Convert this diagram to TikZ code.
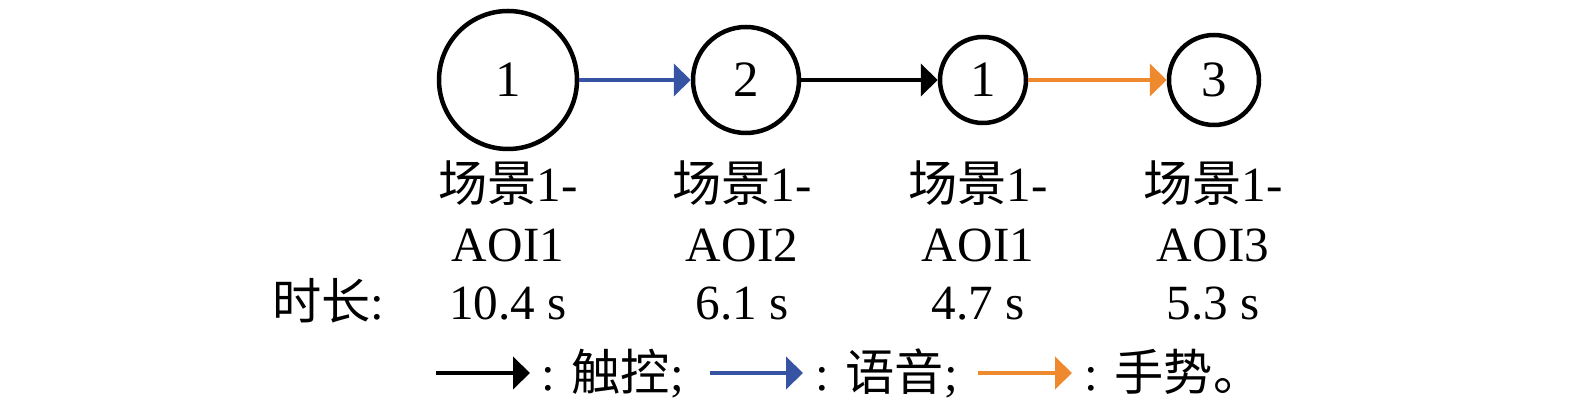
\documentclass[tikz,border=0pt]{standalone}
\usepackage{fontspec}
\setmainfont{Liberation Serif}
\newfontfamily\cjk{Noto Sans CJK SC}
\usetikzlibrary{arrows.meta}
\definecolor{voiceblue}{RGB}{54,83,164}
\definecolor{gestorange}{RGB}{238,137,45}
\begin{document}
\begin{tikzpicture}[font=\fontsize{14}{17}\selectfont, line join=round, >={Triangle[length=0.17cm,width=0.32cm]},
		aoi/.style={circle, draw, line width=0.045cm, inner sep=0pt, font=\fontsize{14.5}{17}\selectfont},
		txt/.style={inner sep=0pt, anchor=base},
		flow/.style={->, line width=0.042cm}]
			\useasboundingbox (0,0) rectangle (15.75,4.07);
			\node[aoi, minimum size=1.38cm] (a1) at (5.08,3.27) {1};
			\node[aoi, minimum size=1.06cm] (a2) at (7.46,3.27) {2};
			\node[aoi, minimum size=0.86cm] (a3) at (9.83,3.27) {1};
			\node[aoi, minimum size=0.90cm] (a4) at (12.14,3.27) {3};
			\draw[flow, voiceblue] (a1) -- (a2);
			\draw[flow] (a2) -- (a3);
			\draw[flow, gestorange] (a3) -- (a4);
			\foreach \x/\n/\k/\t in {5.08/1/1/10.4, 7.42/2/2/6.1, 9.78/3/1/4.7, 12.13/4/3/5.3}
			{
				\node[txt] (s\n) at (\x,2.05) {{\cjk 场景}1-};
				\node[txt] (o\n) at (\x,1.45) {AOI\k};
				\node[txt] (d\n) at (\x,0.87) {\t\ s};
			}
			\node[txt, anchor=base east] (dur) at (3.85,0.87) {{\cjk 时长}:};
			% legend
			\coordinate (k0) at (4.36,0.34); \coordinate (k1) at (5.30,0.34);
			\coordinate (v0) at (7.10,0.34); \coordinate (v1) at (8.03,0.34);
			\coordinate (g0) at (9.78,0.34); \coordinate (g1) at (10.72,0.34);
			\draw[flow] (k0) -- (k1);
			\draw[flow, voiceblue] (v0) -- (v1);
			\draw[flow, gestorange] (g0) -- (g1);
			\node[txt, anchor=base west] (lk) at (5.41,0.16) {: {\cjk 触控};};
			\node[txt, anchor=base west] (lv) at (8.15,0.16) {: {\cjk 语音};};
			\node[txt, anchor=base west] (lg) at (10.84,0.16) {: {\cjk 手势。}};
		\end{tikzpicture}
\end{document}
